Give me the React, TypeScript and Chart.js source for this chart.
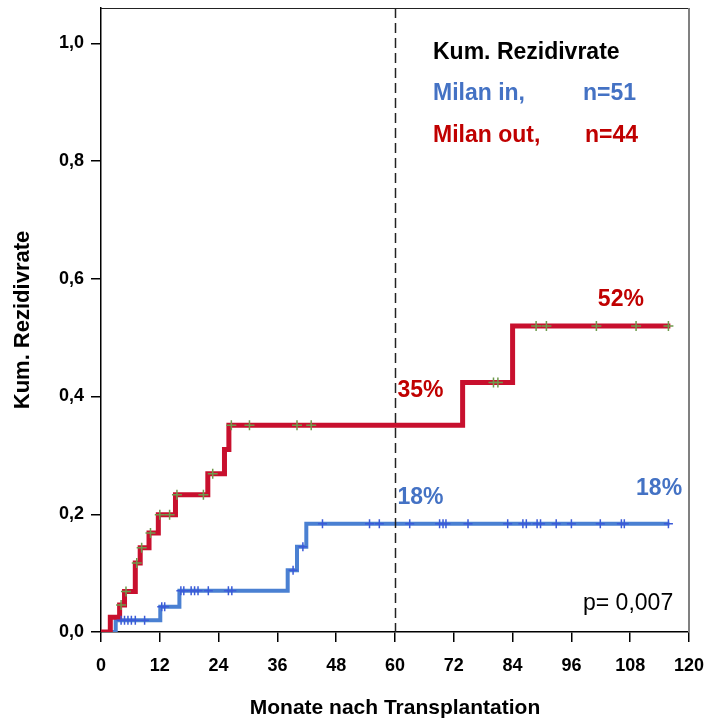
import { useEffect, useRef } from "react";
import { Chart, registerables } from "chart.js";

Chart.register(...registerables);

// Axis ticks
const monthTicks = [0, 12, 24, 36, 48, 60, 72, 84, 96, 108, 120];
const rateTicks = [0, 0.2, 0.4, 0.6, 0.8, 1.0];

// Milan out (n=44): event times (months) and cumulative recurrence rate from that time on
const milanOutMonths = [0, 1.9, 3.8, 4.8, 7.0, 8.0, 9.8, 11.7, 15.2, 21.8, 25.2, 26.1, 73.8, 84.0, 116.2];
const milanOutRates = [0, 0.025, 0.046, 0.069, 0.117, 0.143, 0.168, 0.199, 0.233, 0.269, 0.31, 0.351, 0.424, 0.52, 0.52];
const milanOutCensored = [4.1, 5.1, 7.3, 8.3, 10.1, 12.0, 14.0, 15.5, 20.9, 22.8, 26.6, 30.3, 40.0, 42.9, 80.1, 81.0, 88.8, 90.9, 101.1, 109.2, 115.8];

// Milan in (n=51)
const milanInMonths = [0, 3.0, 12.1, 16.0, 38.1, 40.0, 41.9, 116.0];
const milanInRates = [0, 0.02, 0.043, 0.07, 0.105, 0.145, 0.184, 0.184];
const milanInCensored = [4.1, 4.8, 5.5, 6.2, 7.0, 8.9, 12.4, 13.0, 16.3, 16.9, 18.4, 19.1, 19.8, 21.9, 26.0, 26.7, 39.2, 41.2, 45.2, 54.8, 56.8, 63.0, 69.1, 69.8, 70.4, 74.9, 83.0, 86.1, 86.8, 89.0, 89.7, 92.9, 96.0, 101.9, 106.2, 106.8, 115.8];

const landmarkMonth = 60;
const pValueText = "p= 0,007";

const RED = "#c8102e";
const RED_TEXT = "#c00000";
const BLUE = "#4a80d2";
const BLUE_TEXT = "#4472c4";
const BLUE_MARK = "#3a5ad8";
const GREEN_MARK = "#6f9a4c";
const FONT = "'Liberation Sans', Arial, Helvetica, sans-serif";

function rateAt(months: number[], rates: number[], t: number) {
  let v = rates[0];
  for (let i = 0; i < months.length; i++) if (months[i] <= t) v = rates[i];
  return v;
}

const pct = (v: number) => `${Math.round(v * 100)}%`;

const overlay = {
  id: "overlay",
  afterDatasetsDraw(chart: any) {
    const { ctx, chartArea, scales } = chart;
    const xs = scales.x;
    const ys = scales.y;
    ctx.save();

    // frame: top and right edges
    ctx.strokeStyle = "#222";
    ctx.lineWidth = 1;
    ctx.beginPath();
    ctx.moveTo(chartArea.left, chartArea.top + 0.5);
    ctx.lineTo(chartArea.right, chartArea.top + 0.5);
    ctx.stroke();
    ctx.strokeStyle = "#808080";
    ctx.lineWidth = 2;
    ctx.beginPath();
    ctx.moveTo(chartArea.right, chartArea.top);
    ctx.lineTo(chartArea.right, chartArea.bottom);
    ctx.stroke();

    // landmark at 60 months
    const lx = Math.round(xs.getPixelForValue(landmarkMonth)) + 0.5;
    ctx.strokeStyle = "#222";
    ctx.lineWidth = 1.5;
    ctx.setLineDash([10, 5]);
    ctx.beginPath();
    ctx.moveTo(lx, chartArea.top);
    ctx.lineTo(lx, chartArea.bottom);
    ctx.stroke();
    ctx.setLineDash([]);

    // legend block
    ctx.textBaseline = "alphabetic";
    ctx.textAlign = "left";
    ctx.font = `bold 23px ${FONT}`;
    ctx.fillStyle = "#000";
    ctx.fillText("Kum. Rezidivrate", 433, 59);
    ctx.fillStyle = BLUE_TEXT;
    ctx.fillText("Milan in,", 433, 100);
    ctx.fillText(`n=${51}`, 583, 100);
    ctx.fillStyle = RED_TEXT;
    ctx.fillText("Milan out,", 433, 142);
    ctx.fillText(`n=${44}`, 585, 142);

    // rate labels at 60 months and at end of follow-up
    const redAt60 = rateAt(milanOutMonths, milanOutRates, landmarkMonth);
    const blueAt60 = rateAt(milanInMonths, milanInRates, landmarkMonth);
    const redEnd = milanOutRates[milanOutRates.length - 1];
    const blueEnd = milanInRates[milanInRates.length - 1];
    ctx.fillStyle = RED_TEXT;
    ctx.fillText(pct(redAt60), lx + 2, ys.getPixelForValue(redAt60) - 28);
    ctx.fillText(pct(redEnd), xs.getPixelForValue(101.4), ys.getPixelForValue(redEnd) - 20);
    ctx.fillStyle = BLUE_TEXT;
    ctx.fillText(pct(blueAt60), lx + 2, ys.getPixelForValue(blueAt60) - 19.5);
    ctx.fillText(pct(blueEnd), xs.getPixelForValue(109.2), ys.getPixelForValue(blueEnd) - 28.5);

    // p-value
    ctx.fillStyle = "#000";
    ctx.font = `23px ${FONT}`;
    ctx.fillText(pValueText, 583, 610);

    ctx.restore();
  },
};

export default function App() {
  const canvasRef = useRef<HTMLCanvasElement | null>(null);

  useEffect(() => {
    if (!canvasRef.current) return;
    Chart.defaults.font.family = FONT;
    Chart.defaults.color = "#000";

    const toPoints = (months: number[], rates: number[]) =>
      months.map((m, i) => ({ x: m, y: rates[i] }));
    const toMarks = (censored: number[], months: number[], rates: number[]) =>
      censored.map((m) => ({ x: m, y: rateAt(months, rates, m) }));

    const chart = new Chart(canvasRef.current, {
      type: "line",
      data: {
        datasets: [
          {
            label: "Milan out zensiert",
            type: "scatter",
            data: toMarks(milanOutCensored, milanOutMonths, milanOutRates),
            pointStyle: "cross",
            pointRadius: 5,
            pointBorderWidth: 1.5,
            pointBorderColor: GREEN_MARK,
            showLine: false,
          } as any,
          {
            label: "Milan in zensiert",
            type: "scatter",
            data: toMarks(milanInCensored, milanInMonths, milanInRates),
            pointStyle: "cross",
            pointRadius: 4.5,
            pointBorderWidth: 1.5,
            pointBorderColor: BLUE_MARK,
            showLine: false,
          } as any,
          {
            label: "Milan out",
            data: toPoints(milanOutMonths, milanOutRates),
            stepped: true,
            borderColor: RED,
            borderWidth: 5,
            pointRadius: 0,
            fill: false,
          },
          {
            label: "Milan in",
            data: toPoints(milanInMonths, milanInRates),
            stepped: true,
            borderColor: BLUE,
            borderWidth: 4,
            pointRadius: 0,
            fill: false,
          },
        ],
      },
      options: {
        animation: false,
        responsive: true,
        maintainAspectRatio: false,
        devicePixelRatio: 1,
        layout: { padding: { top: 8, right: 18, bottom: 0, left: 0 } },
        plugins: {
          legend: { display: false },
          tooltip: { enabled: false },
        },
        scales: {
          x: {
            type: "linear",
            min: monthTicks[0],
            max: monthTicks[monthTicks.length - 1],
            afterBuildTicks: (s: any) => {
              s.ticks = monthTicks.map((v) => ({ value: v }));
            },
            afterFit: (s: any) => {
              s.height = 90;
              s.paddingLeft = 0;
              s.paddingRight = 0;
            },
            border: { display: true, color: "#000", width: 1.5 },
            grid: { drawOnChartArea: false, drawTicks: true, tickLength: 10, color: "#000", lineWidth: 1.5 },
            ticks: {
              autoSkip: false,
              maxRotation: 0,
              padding: 13,
              font: { size: 18, weight: "bold" },
              color: "#000",
              callback: (v: any) => String(v),
            },
            title: {
              display: true,
              text: "Monate nach Transplantation",
              font: { size: 21, weight: "bold" },
              color: "#000",
              padding: { top: 0, bottom: 1 },
            },
          },
          y: {
            type: "linear",
            min: 0,
            max: 1.06,
            afterBuildTicks: (s: any) => {
              s.ticks = rateTicks.map((v) => ({ value: v }));
            },
            afterFit: (s: any) => {
              s.width = 101;
              s.paddingTop = 0;
              s.paddingBottom = 0;
            },
            border: { display: true, color: "#000", width: 1.5 },
            grid: { drawOnChartArea: false, drawTicks: true, tickLength: 10, color: "#000", lineWidth: 1.5 },
            ticks: {
              autoSkip: false,
              padding: 7,
              font: { size: 18, weight: "bold" },
              color: "#000",
              callback: (v: any) => Number(v).toFixed(1).replace(".", ","),
            },
            title: {
              display: true,
              text: "Kum. Rezidivrate",
              font: { size: 22, weight: "bold" },
              color: "#000",
              padding: { top: 10, bottom: 0 },
            },
          },
        },
      },
      plugins: [overlay],
    });

    return () => chart.destroy();
  }, []);

  return (
    <div style={{ position: "absolute", left: 0, top: 0, width: 707, height: 722, background: "#fff" }}>
      <canvas ref={canvasRef} />
    </div>
  );
}
